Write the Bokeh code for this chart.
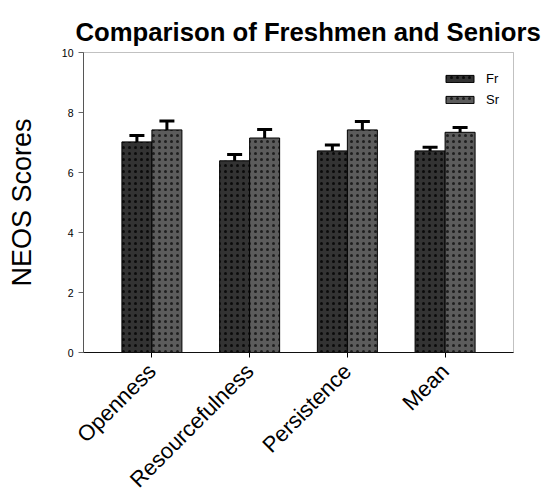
import math
from bokeh.plotting import figure
from bokeh.models import (FixedTicker, Whisker, ColumnDataSource, TeeHead, Legend,
                          LinearAxis, BoxAnnotation, Label)
from bokeh.embed import file_html
from bokeh.resources import INLINE

categories = ["Openness", "Resourcefulness", "Persistence", "Mean"]
fr_means = [7.02, 6.39, 6.72, 6.72]
sr_means = [7.42, 7.15, 7.42, 7.34]
fr_err = [0.21, 0.21, 0.20, 0.12]
sr_err = [0.30, 0.28, 0.28, 0.16]
y_ticks = [0, 2, 4, 6, 8, 10]

pos = [i + 1 for i in range(len(categories))]
bw = 0.307
fr_x = [p_ - bw / 2 for p_ in pos]
sr_x = [p_ + bw / 2 for p_ in pos]

fr_src = ColumnDataSource(dict(x=fr_x, top=fr_means,
                               upper=[m + e for m, e in zip(fr_means, fr_err)],
                               lower=[m - e for m, e in zip(fr_means, fr_err)]))
sr_src = ColumnDataSource(dict(x=sr_x, top=sr_means,
                               upper=[m + e for m, e in zip(sr_means, sr_err)],
                               lower=[m - e for m, e in zip(sr_means, sr_err)]))

# layout: the visible plot box spans x 0.3..4.7 and y 0..10 (430 x 300 px);
# the Bokeh frame covers the whole canvas so that the title, the rotated
# category labels and the axis texts are not clipped.
X_LO, X_HI = 0.3, 4.7
Y_LO, Y_HI = y_ticks[0], y_ticks[-1]
PXX = 430 / (X_HI - X_LO)
PXY = 300 / (Y_HI - Y_LO)

p = figure(width=545, height=491, output_backend="svg", toolbar_location=None,
           x_range=(X_LO - 83 / PXX, X_HI + 32 / PXX),
           y_range=(Y_LO - 139 / PXY, Y_HI + 52 / PXY),
           x_axis_location=None, y_axis_location=None,
           min_border_left=0, min_border_right=0, min_border_top=0, min_border_bottom=0)

p.add_layout(Label(x=X_LO, y=Y_HI, text="Comparison of Freshmen and Seniors",
                   text_align="left", text_baseline="alphabetic",
                   x_offset=-8, y_offset=21,
                   text_font="Liberation Sans", text_font_size="25.7px",
                   text_font_style="bold", text_color="black"))

fr = p.vbar(x="x", top="top", width=bw, bottom=0, source=fr_src,
            fill_color="#333333", line_color="black", line_width=1,
            hatch_pattern="dot", hatch_color="#0a0a0a", hatch_scale=6, hatch_weight=0.8)
sr = p.vbar(x="x", top="top", width=bw, bottom=0, source=sr_src,
            fill_color="#5c5c5c", line_color="black", line_width=1,
            hatch_pattern="dot", hatch_color="#1e1e1e", hatch_scale=6, hatch_weight=0.8)

for src in (fr_src, sr_src):
    w = Whisker(base="x", upper="upper", lower="lower", source=src,
                line_color="black", line_width=3,
                upper_head=TeeHead(size=15, line_width=3, line_color="black"),
                lower_head=TeeHead(size=15, line_width=3, line_color="black"))
    p.add_layout(w)

p.add_layout(BoxAnnotation(left=X_LO, right=X_HI, bottom=Y_LO, top=Y_HI,
                           fill_alpha=0, line_color="#333333", line_width=1))
p.outline_line_color = None

legend = Legend(items=[("Fr", [fr]), ("Sr", [sr])], location=(442, 384),
                border_line_color=None, background_fill_alpha=0,
                glyph_width=35, glyph_height=9, label_height=15, spacing=6,
                padding=0, margin=0, label_standoff=9,
                label_text_font="Liberation Sans", label_text_font_size="13px",
                label_text_color="black")
p.add_layout(legend)

p.xgrid.visible = False
p.ygrid.visible = False

yaxis = LinearAxis(fixed_location=X_LO, bounds=(Y_LO, Y_HI))
yaxis.ticker = FixedTicker(ticks=y_ticks)
yaxis.minor_tick_line_color = None
yaxis.major_tick_out = 5
yaxis.major_tick_in = 0
yaxis.axis_line_color = "#666666"
yaxis.major_tick_line_color = "#666666"
yaxis.major_label_text_font = "Liberation Sans"
yaxis.major_label_text_font_size = "10.5px"
yaxis.major_label_text_color = "black"
p.add_layout(yaxis, "left")

p.add_layout(Label(x=X_LO, y=(Y_LO + Y_HI) / 2, text="NEOS Scores", angle=math.pi / 2,
                   text_align="center", text_baseline="middle", x_offset=-62,
                   text_font="Liberation Sans", text_font_size="27px",
                   text_color="black"))

xaxis = LinearAxis(fixed_location=Y_LO, bounds=(X_LO, X_HI))
xaxis.ticker = FixedTicker(ticks=pos)
xaxis.major_label_overrides = {p_: c for p_, c in zip(pos, categories)}
xaxis.minor_tick_line_color = None
xaxis.major_tick_out = 5
xaxis.major_tick_in = 0
xaxis.axis_line_color = "black"
xaxis.major_tick_line_color = "black"
xaxis.major_label_text_font = "Liberation Sans"
xaxis.major_label_text_font_size = "22px"
xaxis.major_label_text_color = "black"
xaxis.major_label_orientation = math.pi / 4
xaxis.major_label_standoff = 10
p.add_layout(xaxis, "below")

open("out.html", "w").write(file_html(p, INLINE))
